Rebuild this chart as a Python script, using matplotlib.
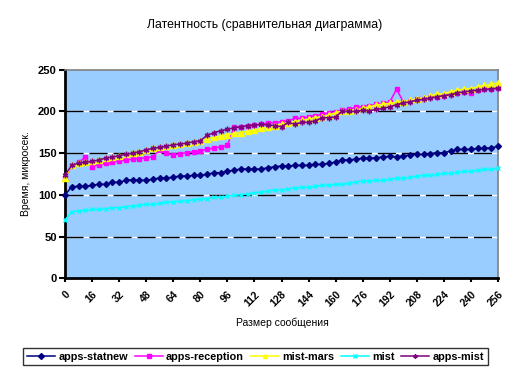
import matplotlib
matplotlib.use("Agg")
import matplotlib.pyplot as plt
import numpy as np

plt.rcParams['font.family'] = ['Liberation Sans', 'DejaVu Sans']
plt.rcParams['lines.scale_dashes'] = False

sizes = list(range(0, 257, 4))
x_ticks = list(range(0, 257, 16))
y_ticks = [0, 50, 100, 150, 200, 250]

apps_statnew = [100, 109.7, 110.1, 110.1, 111.3, 112.5, 112.5, 114.9, 114.9, 117.3,
                118.0, 117.3, 117.3, 118.8, 120.0, 120.0, 121.2, 122.4, 122.4, 123.2,
                123.2, 124.4, 126.4, 126.4, 128.0, 129.6, 130.8, 130.8, 130.8, 130.8,
                132.4, 133.6, 134.4, 134.4, 135.2, 135.2, 135.2, 136.4, 136.4, 137.6,
                139.2, 141.6, 141.6, 142.8, 143.6, 143.6, 144.4, 145.2, 146.0, 145.2,
                146.4, 147.6, 148.4, 148.4, 149.2, 150.3, 150.3, 152.4, 154.3, 154.3,
                154.3, 155.5, 155.5, 156.3, 157.9]

apps_reception = [119.6, 134.8, 138.8, 144.8, 133.6, 136.0, 137.6, 139.2, 140.4, 141.6,
                  142.8, 143.2, 144.4, 145.6, 153.5, 149.6, 147.6, 149.2, 150.3, 151.5,
                  152.7, 154.3, 155.9, 157.5, 159.1, 180.7, 181.1, 182.7, 183.5, 184.3,
                  186.3, 186.3, 187.4, 188.6, 191.4, 191.4, 193.4, 194.8, 196.2, 198.2,
                  199.4, 201.4, 202.6, 204.6, 205.4, 206.6, 208.2, 209.4, 211.0, 226.5,
                  211.4, 212.6, 214.2, 214.2, 216.6, 217.4, 218.6, 220.6, 222.2, 223.0,
                  221.4, 225.3, 226.1, 226.5, 227.3]

mist_mars = [120.0, 135.2, 138.0, 138.8, 140.0, 141.6, 144.0, 145.2, 146.8, 148.4,
             149.6, 151.5, 153.5, 155.5, 156.7, 158.3, 159.9, 160.7, 161.9, 163.5,
             164.7, 167.0, 168.7, 170.3, 171.9, 173.5, 174.3, 176.3, 177.5, 179.5,
             180.7, 182.3, 184.7, 186.3, 187.4, 189.5, 190.2, 192.2, 193.4, 195.4,
             198.2, 200.6, 200.6, 201.4, 203.4, 205.4, 207.4, 208.6, 209.4, 210.6,
             211.4, 213.4, 214.6, 216.2, 218.6, 220.6, 220.6, 223.4, 225.3, 226.5,
             227.0, 229.3, 230.9, 232.1, 234.1]

mist = [69.8, 79.7, 80.5, 81.3, 82.5, 82.5, 83.3, 84.5, 84.5, 85.7,
        86.5, 87.3, 88.5, 88.5, 89.7, 90.9, 91.7, 92.1, 92.9, 94.1,
        94.9, 95.3, 96.9, 96.9, 98.5, 99.3, 100.1, 100.9, 102.5, 102.9,
        104.5, 105.7, 105.7, 106.9, 108.1, 108.9, 108.9, 110.1, 111.3, 111.3,
        112.5, 112.5, 113.7, 115.3, 116.5, 116.5, 117.2, 117.2, 118.4, 119.6,
        119.6, 120.8, 122.0, 123.2, 123.2, 124.4, 125.6, 125.6, 126.8, 128.0,
        128.0, 129.2, 130.4, 130.4, 131.6]

apps_mist = [123.6, 135.2, 138.0, 138.8, 140.0, 141.6, 144.0, 145.2, 146.8, 148.4,
             149.6, 151.5, 153.9, 155.5, 156.7, 158.3, 159.9, 160.7, 161.9, 163.5,
             164.7, 171.1, 174.3, 176.7, 178.3, 180.3, 181.5, 182.7, 183.5, 184.3,
             183.5, 182.7, 181.5, 186.7, 184.3, 186.7, 186.7, 188.6, 192.2, 192.2,
             193.4, 200.2, 199.8, 199.8, 201.4, 200.6, 202.2, 203.4, 205.4, 207.8,
             210.2, 211.0, 213.4, 214.2, 215.4, 217.4, 218.6, 219.8, 222.2, 223.0,
             224.5, 225.3, 226.1, 226.9, 227.7]

series = [
    ("apps-statnew", apps_statnew, "#000080", "D", 3.0),
    ("apps-reception", apps_reception, "#FF00FF", "s", 3.5),
    ("mist-mars", mist_mars, "#FFFF00", "^", 4.5),
    ("mist", mist, "#00FFFF", "x", 3.0),
    ("apps-mist", apps_mist, "#800080", (6, 2, 0), 4.0),
]

W, H = 513, 376
fig = plt.figure(figsize=(W / 100, H / 100), dpi=100)
L, R, T, B = 65, 498, 69.5, 278.3
ax = fig.add_axes([L / W, 1 - B / H, (R - L) / W, (B - T) / H])
ax.set_facecolor("#99CCFF")

# gridlines
for v in y_ticks[1:-1]:
    ax.axhline(v, color="white", lw=1.0, zorder=1)
    ax.axhline(v, color="black", lw=1.0, ls=(0, (13, 4.3)), zorder=1.5)

for name, vals, col, mk, ms in series:
    ax.plot(sizes, vals, color=col, lw=1.1, marker=mk, markersize=ms,
            markerfacecolor=col, markeredgecolor=col, markeredgewidth=1.0,
            label=name, zorder=3, clip_on=False)

ax.set_xlim(0, 256)
ax.set_ylim(0, 250)
ax.set_xticks(x_ticks)
ax.set_xticklabels([str(t) for t in x_ticks], rotation=45, ha="right",
                   rotation_mode="anchor", fontsize=7.5, fontweight="bold")
ax.set_yticks(y_ticks)
ax.set_yticklabels([str(t) for t in y_ticks], fontsize=8, fontweight="bold")
ax.tick_params(axis="y", direction="out", length=4, width=1.5, pad=2)
ax.tick_params(axis="x", direction="out", length=3, width=1.5, pad=5)

for s in ["left", "bottom"]:
    ax.spines[s].set_color("black")
    ax.spines[s].set_linewidth(2)
for s in ["top", "right"]:
    ax.spines[s].set_color("#808080")
    ax.spines[s].set_linewidth(1.2)

fig.text(265 / W, 1 - 25 / H, "Латентность (сравнительная диаграмма)",
         ha="center", va="center", fontsize=8.8)
fig.text(26 / W, 1 - 174 / H, "Время, микросек.", rotation=90,
         ha="center", va="center", fontsize=7.5)
fig.text(282 / W, 1 - 323 / H, "Размер сообщения", ha="center", va="center",
         fontsize=7.5)

leg = fig.legend(loc="center", bbox_to_anchor=(255.5 / W, 1 - 356.5 / H), ncol=5,
                 frameon=True, fancybox=False, edgecolor="black",
                 prop={"weight": "bold", "size": 7.8}, handlelength=2.6,
                 columnspacing=0.6, handletextpad=0.3, borderpad=0.35,
                 borderaxespad=0)
leg.get_frame().set_linewidth(1.0)
for h in leg.legend_handles:
    h.set_markersize(3)

fig.savefig("out.png", dpi=100)
